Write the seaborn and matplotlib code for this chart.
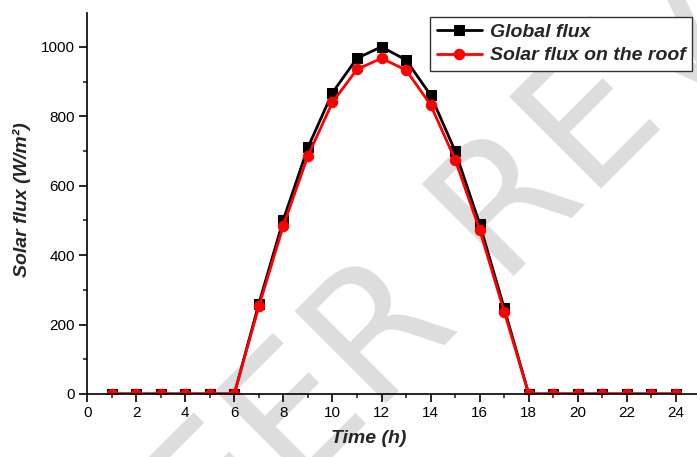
import matplotlib
matplotlib.use("Agg")
import matplotlib.pyplot as plt
import seaborn as sns
import pandas as pd
from matplotlib.ticker import MultipleLocator

hours = list(range(1, 25))
global_flux = [0, 0, 0, 0, 0, 0, 260, 502, 710, 868, 967, 1000, 962, 861, 700, 490, 247,
               0, 0, 0, 0, 0, 0, 0]
roof_flux = [0, 0, 0, 0, 0, 0, 252, 485, 686, 840, 935, 967, 933, 833, 675, 473, 237,
             0, 0, 0, 0, 0, 0, 0]
series_names = ["Global flux", "Solar flux on the roof"]

sns.set_style("ticks")
plt.rcParams['font.family'] = ['Liberation Sans', 'DejaVu Sans']

fig = plt.figure(figsize=(6.97, 4.57), dpi=100)
ax = fig.add_axes([0.125, 0.138, 0.875, 0.834])

# watermark (behind the axes content)
fig.text(0.745, 0.62, "PEER REVIEW", fontsize=128, color="#dddddd", rotation=45,
         ha="center", va="center_baseline", rotation_mode="anchor", zorder=-1,
         fontfamily="DejaVu Sans")
ax.set_facecolor("none")

df1 = pd.DataFrame({"Time": hours, "Flux": global_flux})
df2 = pd.DataFrame({"Time": hours, "Flux": roof_flux})
sns.lineplot(data=df1, x="Time", y="Flux", ax=ax, color="black", marker="s",
             markersize=6.5, markeredgecolor="black", linewidth=2, label=series_names[0])
sns.lineplot(data=df2, x="Time", y="Flux", ax=ax, color="red", marker="o",
             markersize=7.5, markeredgecolor="red", linewidth=2, label=series_names[1])

ax.set_xlim(0, 24.86)
ax.set_ylim(0, 1098)
ax.xaxis.set_major_locator(MultipleLocator(2))
ax.xaxis.set_minor_locator(MultipleLocator(1))
ax.yaxis.set_major_locator(MultipleLocator(200))
ax.yaxis.set_minor_locator(MultipleLocator(100))
ax.tick_params(which="major", length=5.5, width=1.2, labelsize=11, direction="out",
               colors="black")
ax.tick_params(which="minor", length=3, width=1.2, direction="out")
for s in ["top", "right"]:
    ax.spines[s].set_visible(False)
for s in ["left", "bottom"]:
    ax.spines[s].set_linewidth(1.2)
    ax.spines[s].set_color("black")

ax.set_xlabel("Time (h)", fontsize=14, fontweight="bold", fontstyle="italic")
ax.set_ylabel("Solar flux (W/m²)", fontsize=14, fontweight="bold", fontstyle="italic")
ax.xaxis.set_label_coords(0.462, -0.095)
ax.yaxis.set_label_coords(-0.092, 0.51)

leg = ax.legend(loc="upper right", bbox_to_anchor=(0.992, 0.99), frameon=True, fancybox=False,
                edgecolor="#333333", framealpha=1,
                prop={"size": 14, "weight": "bold", "style": "italic"},
                handlelength=2.3, borderpad=0.35, labelspacing=0.3, handletextpad=0.4,
                borderaxespad=0.0)
leg.get_frame().set_linewidth(1.0)

fig.savefig("out.png", dpi=100)
